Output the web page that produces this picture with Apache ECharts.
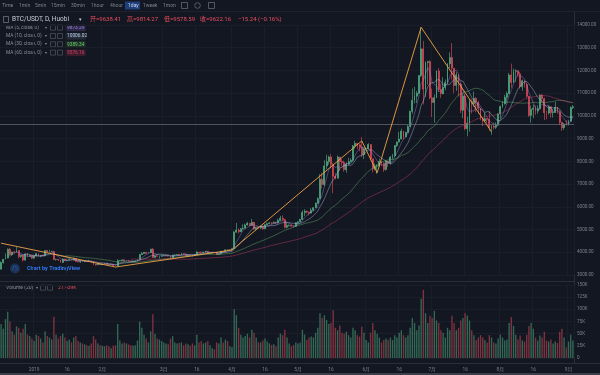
<!DOCTYPE html>
<html><head><meta charset="utf-8">
<script src="https://cdn.jsdelivr.net/npm/echarts/dist/echarts.min.js"></script>
<style>html,body{margin:0;padding:0;background:#131722;}#c{width:600px;height:375px;}</style>
</head><body><div id="c"></div><script>
// ---- Daily candles [open, high, low, close] ----
const dec2018 = [[3253,3597,3253,3545],[3545,3700,3500,3697],[3697,3950,3690,3745],[3745,4170,3740,4134],[4134,4200,3850,3896],[3896,4015,3850,4015],[4015,4060,3950,3998],[3998,4230,3990,4078],[4078,4078,3735,3815],[3815,3900,3750,3857],[3857,3880,3600,3654],[3654,3956,3640,3923],[3923,3970,3810,3820],[3820,3900,3810,3865],[3865,3880,3700,3742]];
const jan2019 = [[3742,3850,3707,3843],[3843,3947,3817,3943],[3943,3945,3826,3837],[3837,3865,3783,3858],[3858,3904,3836,3845],[3845,4093,3826,4076],[4076,4098,4014,4025],[4025,4109,3997,4030],[4030,4070,4011,4035],[4035,4067,3653,3678],[3678,3713,3636,3687],[3687,3694,3616,3661],[3661,3669,3544,3552],[3552,3722,3552,3706],[3706,3720,3626,3631],[3631,3695,3616,3656],[3656,3680,3611,3678],[3678,3682,3629,3658],[3658,3764,3658,3728],[3728,3730,3581,3601],[3601,3613,3561,3576],[3576,3624,3535,3604],[3604,3614,3573,3585],[3585,3623,3575,3600],[3600,3609,3571,3599],[3599,3671,3595,3603],[3603,3612,3538,3583],[3583,3584,3440,3474],[3474,3476,3413,3448],[3448,3522,3442,3487],[3487,3501,3456,3457]];
const feb2019 = [[3457,3502,3446,3487],[3487,3527,3474,3521],[3521,3521,3450,3464],[3464,3483,3446,3459],[3459,3481,3455,3466],[3466,3480,3403,3413],[3413,3427,3394,3400],[3400,3695,3392,3631],[3631,3650,3611,3633],[3633,3675,3609,3671],[3671,3673,3603,3612],[3612,3640,3580,3621],[3621,3645,3590,3600],[3600,3607,3575,3583],[3583,3645,3580,3601],[3601,3645,3600,3618],[3618,3684,3608,3667],[3667,3912,3654,3899],[3899,4010,3880,3947],[3947,4003,3926,3999],[3999,4012,3927,3955],[3955,3999,3950,3990],[3990,4158,3980,4137],[4137,4189,3760,3771],[3771,3860,3769,3842],[3842,3856,3811,3827],[3827,3847,3721,3831],[3831,3900,3810,3851]];
const mar2019 = [[3851,3887,3843,3857],[3857,3865,3824,3863],[3863,3864,3820,3836],[3836,3836,3735,3753],[3753,3898,3747,3879],[3879,3905,3855,3885],[3885,3917,3877,3899],[3899,3937,3854,3876],[3876,3969,3870,3944],[3944,3945,3902,3926],[3926,3934,3855,3865],[3865,3895,3835,3885],[3885,3900,3859,3873],[3873,3895,3810,3868],[3868,3920,3864,3907],[3907,4048,3907,4010],[4010,4010,3965,3986],[3986,4040,3959,3983],[3983,4024,3977,4015],[4015,4054,3989,4044],[4044,4060,3950,3970],[3970,4000,3965,3985],[3985,4000,3975,3992],[3992,3998,3968,3986],[3986,3990,3882,3904],[3904,3940,3900,3930],[3930,4055,3925,4043],[4043,4050,4020,4037],[4037,4120,4030,4108],[4108,4140,4080,4106],[4106,4120,4085,4110]];
const apr2019 = [[4110,4170,4090,4158],[4158,4940,4155,4880],[4880,5290,4870,4975],[4975,5050,4820,4905],[4905,5060,4890,5040],[5040,5230,5000,5060],[5060,5260,5060,5200],[5200,5340,5180,5275],[5275,5280,5150,5180],[5180,5470,5170,5320],[5320,5330,4980,5040],[5040,5100,4960,5080],[5080,5120,5050,5070],[5070,5170,5030,5140],[5140,5180,5000,5030],[5030,5230,5020,5210],[5210,5300,5200,5260],[5260,5340,5250,5290],[5290,5330,5220,5280],[5280,5350,5270,5320],[5320,5340,5240,5290],[5290,5480,5270,5400],[5400,5600,5390,5500],[5500,5620,5400,5430],[5430,5470,5050,5100],[5100,5290,5050,5180],[5180,5220,5130,5190],[5190,5210,5130,5150],[5150,5180,5100,5140],[5140,5320,5120,5300]];
const may2019 = [[5300,5350,5270,5340],[5340,5480,5330,5440],[5440,5850,5430,5750],[5750,5890,5600,5810],[5810,5830,5710,5770],[5770,5780,5620,5720],[5720,5950,5710,5850],[5850,5990,5800,5960],[5960,6190,5950,6160],[6160,6420,6130,6350],[6350,7440,6340,7210],[7210,7500,6800,6980],[6980,8050,6900,7800],[7800,8300,7650,7990],[7990,8250,7860,8190],[8190,8320,7700,7870],[7870,7930,6600,7340],[7340,7480,7200,7260],[7260,8260,7250,8190],[8190,8200,7580,7990],[7990,8100,7800,7950],[7950,8030,7550,7630],[7630,7960,7500,7880],[7880,8150,7840,7990],[7990,8130,7950,8050],[8050,8720,7990,8680],[8680,8900,8560,8790],[8790,8810,8550,8730],[8730,8750,8440,8630],[8630,9070,8190,8290],[8290,8580,8100,8550]];
const jun2019 = [[8550,8620,8480,8560],[8560,8800,8540,8740],[8740,8750,8050,8110],[8110,8120,7510,7680],[7680,7900,7600,7790],[7790,7870,7450,7800],[7800,8120,7770,7990],[7990,8000,7800,7920],[7920,7940,7530,7640],[7640,8040,7590,8010],[8010,8010,7750,7930],[7930,8240,7850,8190],[8190,8330,8090,8240],[8240,8720,8200,8700],[8700,8880,8630,8850],[8850,9300,8840,8980],[8980,9440,8980,9330],[9330,9340,8960,9080],[9080,9300,9050,9270],[9270,9600,9250,9530],[9530,10230,9530,10200],[10200,11200,10100,10690],[10690,11280,10550,10870],[10870,11100,10570,11000],[11000,11800,10970,11780],[11780,13900,11700,12950],[12950,13300,10500,11170],[11170,12400,10830,12350],[12350,12400,11380,12390],[12390,12450,10730,10800]];
const jul2019 = [[10800,11200,9950,10590],[10590,10940,9700,10800],[10800,12000,10780,11980],[11980,12100,11050,11160],[11160,11420,10790,10970],[10970,11700,10960,11250],[11250,11600,11130,11470],[11470,12330,11400,12290],[12290,12800,12100,12570],[12570,13200,11600,12100],[12100,12100,11000,11340],[11340,11920,11100,11800],[11800,11830,10850,11390],[11390,11450,10120,10250],[10250,11000,9900,10870],[10870,10970,9370,9440],[9440,9970,9100,9680],[9680,10730,9310,10640],[10640,10750,10100,10530],[10530,11080,10400,10770],[10770,10830,10160,10600],[10600,10660,10090,10330],[10330,10340,9810,9880],[9880,9930,9550,9780],[9780,10150,9740,9880],[9880,9900,9680,9850],[9850,10200,9340,9480],[9480,9620,9170,9540],[9540,9700,9400,9500],[9500,9720,9420,9590],[9590,10110,9570,10090]];
const aug2019 = [[10090,10450,9870,10410],[10410,10660,10350,10530],[10530,10930,10500,10820],[10820,11070,10600,10980],[10980,11890,10960,11800],[11800,12300,11240,11470],[11470,12080,11450,11960],[11960,12050,11500,11990],[11990,12000,11740,11850],[11850,11940,11200,11280],[11280,11600,11100,11550],[11550,11560,11250,11380],[11380,11440,10800,10860],[10860,10880,9960,10020],[10020,10450,9700,10290],[10290,10500,9900,10340],[10340,10460,10050,10220],[10220,10470,10100,10310],[10310,10950,10280,10920],[10920,10950,10600,10760],[10760,10800,9820,10140],[10140,10230,9850,10130],[10130,10450,10060,10400],[10400,10420,9930,10140],[10140,10300,9930,10150],[10150,10620,10130,10380],[10380,10400,10100,10180],[10180,10250,9600,9720],[9720,9730,9340,9480],[9480,9690,9380,9637.40],[9638.41,9814.27,9578.59,9622.16]];
const sep2019 = [[9622,9830,9580,9760],[9760,10420,9740,10370],[10370,10480,10300,10405]];

// ---- Daily volume (thousand BTC) ----
const volDec2018 = [70,60,80,95,75,55,48,65,62,52,60,70,48,45,40];
const volJan2019 = [35,48,45,40,32,55,45,42,38,85,48,40,45,50,42,35,38,32,42,45,35,32,30,28,26,25,30,45,38,30,26];
const volFeb2019 = [25,24,26,24,20,25,26,70,36,30,32,30,28,26,25,26,36,75,62,48,40,32,55,90,50,40,38,35];
const volMar2019 = [32,30,28,40,45,32,30,31,32,26,30,28,25,30,26,48,32,35,30,32,35,26,20,18,32,30,42,32,38,35,24];
const volApr2019 = [22,100,88,62,48,42,45,50,42,58,52,42,32,32,36,40,34,30,27,28,24,42,50,47,58,42,30,24,27,32];
const volMay2019 = [30,32,58,48,37,42,44,42,52,62,92,82,88,78,70,72,98,62,57,67,52,50,54,47,42,62,57,47,44,64,52];
const volJun2019 = [37,32,52,72,57,50,42,32,37,40,37,42,37,47,42,52,57,47,42,47,62,82,72,57,67,122,140,92,72,87];
const volJul2019 = [82,97,77,72,57,52,42,62,57,87,72,57,62,77,82,92,87,77,57,47,37,42,47,42,37,32,47,42,32,30,40];
const volAug2019 = [48,42,36,38,72,84,66,48,38,46,36,34,48,66,72,60,42,36,46,42,54,36,34,38,30,34,31,54,60,42,21.439];
const volSep2019 = [34,48,36];

// ---- Wave annotation points ----
const waveDates  = ['2018-12-17','2019-02-07','2019-04-01','2019-05-30','2019-06-06','2019-06-26','2019-07-28'];
const wavePrices = [4400, 3350, 4100, 8900, 7500, 13900, 9300];
const waveLabels = ['', '', '(A)', '(B)', '(C)', '(D)', '(E)'];
const waveLabelPos = ['bottom','bottom','bottom','top','bottom','top','bottom'];

// ---- Axis ticks ----
const xTicks = [['2019-01-01','2019'],['2019-01-16','16'],['2019-02-01','2月'],['2019-03-01','3月'],['2019-03-16','16'],['2019-04-01','4月'],['2019-04-16','16'],['2019-05-01','5月'],['2019-05-16','16'],['2019-06-01','6月'],['2019-06-16','16'],['2019-07-01','7月'],['2019-07-16','16'],['2019-08-01','8月'],['2019-08-16','16'],['2019-09-01','9月']];
const priceMin = 3000, priceMax = 14000, priceStep = 1000;
const volMin = 0, volMax = 150000, volStep = 25000;
const maPeriods = [5, 10, 30, 60];
const maColors = ['#9b86d9', '#b9cbe6', '#6fbf73', '#d2426f'];
const maValues = ['9873.29', '10006.02', '9389.34', '9576.16'];
const lastPrice = 10405, crossPrice = 9622.16;

// ---- Build ----
const ohlc = [].concat(dec2018, jan2019, feb2019, mar2019, apr2019, may2019, jun2019, jul2019, aug2019, sep2019);
const vols = [].concat(volDec2018, volJan2019, volFeb2019, volMar2019, volApr2019, volMay2019, volJun2019, volJul2019, volAug2019, volSep2019);
const dates = [];
for (let i = 0; i < ohlc.length; i++) {
  const d = new Date(Date.UTC(2018, 11, 17 + i));
  dates.push(d.toISOString().slice(0, 10));
}
const UP = '#53b987', DOWN = '#eb4d5c';
const candleData = ohlc.map(r => [r[0], r[3], r[2], r[1]]);
const volData = vols.map((v, i) => ({
  value: v * 1000,
  itemStyle: { color: ohlc[i][3] >= ohlc[i][0] ? 'rgba(83,185,135,0.5)' : 'rgba(235,77,92,0.5)' }
}));
function ma(n) {
  const out = [];
  for (let i = 0; i < ohlc.length; i++) {
    if (i < n - 1) { out.push('-'); continue; }
    let s = 0;
    for (let j = 0; j < n; j++) s += ohlc[i - j][3];
    out.push(+(s / n).toFixed(2));
  }
  return out;
}
const tickMap = {};
xTicks.forEach(t => tickMap[t[0]] = t[1]);

const FONT = 'Roboto, "Noto Sans CJK SC", sans-serif';
const G = [];
function txt(x, y, s, fill, size, weight) {
  G.push({ type: 'text', x: x, y: y, silent: true,
    style: { text: s, fill: fill, fontSize: size, fontFamily: FONT, fontWeight: weight || 'normal', verticalAlign: 'middle', align: 'left' } });
}
function rect(x, y, w, h, fill, stroke) {
  G.push({ type: 'rect', silent: true, shape: { x: x, y: y, width: w, height: h },
    style: { fill: fill || 'none', stroke: stroke || 'none', lineWidth: 0.6 } });
}
function line(x1, y1, x2, y2, stroke, w) {
  G.push({ type: 'line', silent: true, shape: { x1: x1, y1: y1, x2: x2, y2: y2 },
    style: { stroke: stroke, lineWidth: w || 1 } });
}
// frame lines
line(0, 11.5, 600, 11.5, '#1e222d', 1);
line(574.5, 12, 574.5, 363, '#2a2e39', 1);
line(0, 281.5, 574, 281.5, '#2a2e39', 1);
line(0, 363.5, 600, 363.5, '#2a2e39', 1);
line(0, 374, 600, 374, '#3b3f4a', 2);
// toolbar
rect(125, 1.5, 15, 8, '#1f3f7a');
[['Time',2],['1min',19],['5min',35],['15min',51],['30min',71],['1hour',91],['4hour',110],['1day',128],['1week',143],['1mon',163]]
  .forEach(t => txt(t[1], 5.5, t[0], t[0] === '1day' ? '#c8d3ee' : '#7d818c', 5));
rect(181.5, 2.5, 6, 6, null, '#7d818c');
G.push({ type: 'circle', silent: true, shape: { cx: 197.5, cy: 5.5, r: 2.8 }, style: { fill: 'none', stroke: '#7d818c', lineWidth: 0.6 } });
rect(208.5, 2.5, 6, 6, null, '#7d818c');
// header
rect(3.5, 16.5, 5, 6, null, '#8a8e99');
txt(12, 19.5, 'BTC/USDT, D, Huobi', '#c9ccd4', 6.5);
txt(79, 19.5, '▾', '#c9ccd4', 5);
txt(90, 19.5, '开=9638.41', DOWN, 6);
txt(127, 19.5, '高=9814.27', DOWN, 6);
txt(164, 19.5, '低=9578.59', DOWN, 6);
txt(200, 19.5, '收=9622.16', DOWN, 6);
txt(238, 19.5, '−15.24 (−0.16%)', DOWN, 6);
// MA legend
const maBg = ['#2e2848', '#262c3a', '#1f3524', '#3d1c2b'];
maPeriods.forEach((p, k) => {
  const y = 27.7 + k * 8.3;
  txt(6, y, 'MA (' + p + ', close, 0)', '#8a8e99', 4.8);
  txt(45, y, '▾', '#8a8e99', 4);
  rect(50.5, y - 2.5, 5, 5, null, '#5d616c');
  rect(57.5, y - 2.5, 5, 5, null, '#5d616c');
  rect(65.5, y - 3, 20, 6.5, maBg[k]);
  txt(67, y + 0.3, maValues[k], maColors[k], 4.8);
});
// volume legend
txt(6, 287.7, 'Volume (20)', '#8a8e99', 5);
txt(36, 287.7, '▾', '#8a8e99', 4);
rect(40.5, 285.2, 5, 5, null, '#5d616c');
rect(47.5, 285.2, 5, 5, null, '#5d616c');
txt(58, 287.7, '21.439K', DOWN, 5);
// watermark
G.push({ type: 'circle', silent: true, shape: { cx: 15, cy: 268.5, r: 5 }, style: { fill: '#1c3157' } });
txt(12, 268.5, '☁', '#4a8ff0', 6);
txt(27, 269, 'Chart by TradingView', '#3179f5', 5.5, 'bold');

const maSeries = maPeriods.map((p, k) => ({
  type: 'line', name: 'MA' + p, data: ma(p), xAxisIndex: 0, yAxisIndex: 0,
  showSymbol: false, symbol: 'none', smooth: false, silent: true,
  lineStyle: { color: maColors[k], width: 0.7, opacity: 0.6 }, z: 3
}));

const option = {
  backgroundColor: '#131722',
  animation: false,
  textStyle: { fontFamily: FONT },
  grid: [
    { left: 0, right: 26, top: 25, height: 250 },
    { left: 0, right: 26, top: 285, height: 73 }
  ],
  xAxis: [
    { type: 'category', data: dates, gridIndex: 0, boundaryGap: true,
      axisLine: { show: false }, axisTick: { show: false }, axisLabel: { show: false },
      splitLine: { show: true, interval: (i, v) => tickMap[v] !== undefined, lineStyle: { color: '#1a1e29', width: 1 } } },
    { type: 'category', data: dates, gridIndex: 1, boundaryGap: true,
      axisLine: { show: false }, axisTick: { show: false },
      axisLabel: { show: true, interval: (i, v) => tickMap[v] !== undefined, formatter: v => tickMap[v] || '',
        color: '#7d818c', fontSize: 4.8, margin: 9 },
      splitLine: { show: true, interval: (i, v) => tickMap[v] !== undefined, lineStyle: { color: '#1a1e29', width: 1 } } }
  ],
  yAxis: [
    { type: 'value', gridIndex: 0, position: 'right', min: priceMin, max: priceMax, interval: priceStep,
      axisLine: { show: false }, axisTick: { show: false },
      axisLabel: { color: '#7d818c', fontSize: 4.6, margin: 3, formatter: v => v.toFixed(2) },
      splitLine: { show: true, lineStyle: { color: '#1a1e29', width: 1 } } },
    { type: 'value', gridIndex: 1, position: 'right', min: volMin, max: volMax, interval: volStep,
      axisLine: { show: false }, axisTick: { show: false },
      axisLabel: { color: '#7d818c', fontSize: 4.6, margin: 3, formatter: v => v === 0 ? '0' : (v / 1000) + 'K' },
      splitLine: { show: true, lineStyle: { color: '#1a1e29', width: 1 } } }
  ],
  series: [
    { type: 'candlestick', name: 'BTC/USDT', data: candleData, xAxisIndex: 0, yAxisIndex: 0, barWidth: '62%', z: 2,
      itemStyle: { color: UP, color0: DOWN, borderColor: UP, borderColor0: DOWN, borderWidth: 0.6 },
      markLine: { symbol: ['none', 'none'], silent: true, animation: false,
        data: [
          { yAxis: crossPrice, lineStyle: { color: '#6a6e7a', width: 0.7, type: 'solid' }, label: { show: false } },
          { yAxis: lastPrice, lineStyle: { color: DOWN, width: 0.7, type: 'dotted', opacity: 0 },
            label: { show: true, position: 'end', distance: 1, formatter: lastPrice.toFixed(2), backgroundColor: DOWN,
              color: '#ffffff', fontSize: 4.6, padding: [1.6, 2.5], fontFamily: FONT } }
        ] } },
    ...maSeries,
    { type: 'line', name: 'wave', xAxisIndex: 0, yAxisIndex: 0, z: 5, silent: true,
      data: waveDates.map((d, i) => ({ value: [d, wavePrices[i]],
        label: { show: waveLabels[i] !== '', formatter: waveLabels[i], position: waveLabelPos[i], distance: 3 } })),
      symbol: 'none', showSymbol: true,
      lineStyle: { color: '#f0a442', width: 0.9 },
      label: { color: '#f0a442', fontSize: 7, fontFamily: FONT } },
    { type: 'bar', name: 'Volume', data: volData, xAxisIndex: 1, yAxisIndex: 1, barWidth: '62%' }
  ],
  graphic: { elements: G }
};
const chart = echarts.init(document.getElementById('c'));
chart.setOption(option);
</script></body></html>
